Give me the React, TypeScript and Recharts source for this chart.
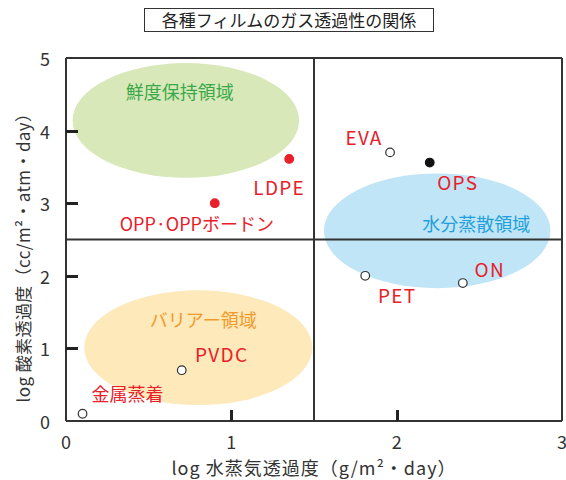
import React from 'react';
import { ScatterChart, Scatter, XAxis, YAxis, ReferenceArea, ReferenceLine } from 'recharts';

const FONT = '"Noto Sans CJK JP", "Noto Sans", sans-serif';
const INK = '#333333';
const RED = '#e8202a';

const xTicks = [0, 1, 2, 3];
const yTicks = [0, 1, 2, 3, 4, 5];

// open circles: film, log water vapour, log oxygen
const openFilms = ['金属蒸着', 'PVDC', 'EVA', 'PET', 'ON'];
const openVapour = [0.1, 0.7, 1.96, 1.81, 2.4];
const openOxygen = [0.1, 0.7, 3.7, 2.0, 1.9];

// red dots
const redFilms = ['LDPE', 'OPP·OPPボードン'];
const redVapour = [1.35, 0.9];
const redOxygen = [3.61, 3.0];

// black dot
const blackFilms = ['OPS'];
const blackVapour = [2.2];
const blackOxygen = [3.56];

// shaded regions (bounding boxes in data units)
const regionNames = ['鮮度保持領域', '水分蒸散領域', 'バリアー領域'];
const regionX1 = [0.04, 1.56, 0.11];
const regionX2 = [1.41, 2.93, 1.49];
const regionY1 = [3.35, 1.83, 0.22];
const regionY2 = [4.93, 3.41, 1.8];

const dividerX = 1.5;
const dividerY = 2.5;

// styling: label offsets in px from the point
const labelOffset: Record<string, [number, number]> = {
  '金属蒸着': [45, -21],
  PVDC: [40, -17],
  EVA: [-26, -16],
  PET: [32, 19],
  ON: [27, -15],
  LDPE: [-10, 28],
  'OPP·OPPボードン': [-18, 20],
  OPS: [28, 19],
};
const regionFill = ['#d9e8b9', '#bfe5f6', '#fde9ba'];
const regionText = ['#3aa84a', '#1f9fdb', '#f19a2c'];
const regionLabelOffset: [number, number][] = [[-6, -29], [39, -8], [5, -29]];

const toPoints = (names: string[], xs: number[], ys: number[]) =>
  names.map((name, i) => ({ name, x: xs[i], y: ys[i] }));

const openData = toPoints(openFilms, openVapour, openOxygen);
const redData = toPoints(redFilms, redVapour, redOxygen);
const blackData = toPoints(blackFilms, blackVapour, blackOxygen);

// inward tick marks, placed through the scatter scales
const yTickMarks = yTicks.slice(1, -1).map((v) => ({ x: xTicks[0], y: v }));
const xTickMarks = xTicks.slice(1, -1).map((v) => ({ x: v, y: yTicks[0] }));

const isLatin = (s: string) => /^[A-Z]+$/.test(s);

const makeDot = (fill: string, stroke: string) => (props: any) => {
  const { cx, cy, payload } = props;
  const [dx, dy] = labelOffset[payload.name] || [0, 0];
  const latin = isLatin(payload.name);
  return (
    <g>
      <circle cx={cx} cy={cy} r={4.3} fill={fill} stroke={stroke} strokeWidth={1.2} />
      <text
        x={cx + dx}
        y={cy + dy}
        textAnchor="middle"
        dominantBaseline="central"
        fill={RED}
        fontSize={latin ? 19 : 18}
        letterSpacing={latin ? 1.3 : 0}
        fontFamily={FONT}
      >
        {payload.name}
      </text>
    </g>
  );
};

// tick marks as filled rects (stroked lines did not show here)
const yTickShape = (props: any) => (
  <rect x={Math.round(props.cx)} y={Math.round(props.cy) - 1} width={12} height={3} fill="#222222" />
);
const xTickShape = (props: any) => (
  <rect x={Math.round(props.cx) - 1} y={Math.round(props.cy) - 11} width={3} height={11} fill="#222222" />
);

const makeEllipse = (i: number) => (props: any) => {
  const { x, y, width, height } = props;
  const cx = x + width / 2;
  const cy = y + height / 2;
  return (
    <g>
      <ellipse cx={cx} cy={cy} rx={Math.abs(width) / 2} ry={Math.abs(height) / 2} fill={regionFill[i]} />
      <text
        x={cx + regionLabelOffset[i][0]}
        y={cy + regionLabelOffset[i][1]}
        textAnchor="middle"
        dominantBaseline="central"
        fill={regionText[i]}
        fontSize={18}
        fontFamily={FONT}
      >
        {regionNames[i]}
      </text>
    </g>
  );
};

const XTick = (props: any) => {
  const { x, y, payload } = props;
  return (
    <text x={x} y={y + 20} textAnchor="middle" dominantBaseline="central" fill={INK} fontSize={18} fontFamily={FONT}>
      {payload.value}
    </text>
  );
};

const YTick = (props: any) => {
  const { x, y, payload } = props;
  return (
    <text x={x - 21} y={y} textAnchor="middle" dominantBaseline="central" fill={INK} fontSize={18} fontFamily={FONT}>
      {payload.value}
    </text>
  );
};

const XTitle = (props: any) => {
  const vb = props.viewBox;
  return (
    <text
      x={vb.x + vb.width / 2}
      y={vb.y + 46}
      textAnchor="middle"
      dominantBaseline="central"
      fill={INK}
      fontSize={18}
      letterSpacing={1}
      fontFamily={FONT}
    >
      log 水蒸気透過度（g/m²・day）
    </text>
  );
};

const YTitle = (props: any) => {
  const vb = props.viewBox;
  const cx = vb.x + 22;
  const cy = vb.y + vb.height / 2 + 14;
  return (
    <text
      x={cx}
      y={cy}
      transform={`rotate(-90, ${cx}, ${cy})`}
      textAnchor="middle"
      dominantBaseline="central"
      fill={INK}
      fontSize={17}
      letterSpacing={0.4}
      fontFamily={FONT}
    >
      log 酸素透過度（cc/m²・atm・day）
    </text>
  );
};

export default function App() {
  return (
    <div style={{ position: 'absolute', left: 0, top: 0, width: 566, height: 480, background: '#fff' }}>
      <div
        style={{
          position: 'absolute',
          left: 144,
          top: 8,
          width: 290,
          height: 24,
          boxSizing: 'border-box',
          border: `1.5px solid ${INK}`,
          fontFamily: FONT,
          fontSize: 17,
          lineHeight: '21px',
          textAlign: 'center',
          color: '#222',
        }}
      >
        各種フィルムのガス透過性の関係
      </div>
      <ScatterChart width={566} height={480} margin={{ top: 58, right: 4, bottom: 0, left: 0 }}>
        <XAxis
          type="number"
          dataKey="x"
          domain={[0, 3]}
          ticks={xTicks}
          height={59}
          tickSize={0}
          tickMargin={0}
          tickLine={false}
          axisLine={{ stroke: INK, strokeWidth: 2 }}
          tick={<XTick />}
          label={XTitle}
        />
        <YAxis
          type="number"
          dataKey="y"
          domain={[0, 5]}
          ticks={yTicks}
          width={66}
          tickSize={0}
          tickMargin={0}
          tickLine={false}
          axisLine={{ stroke: INK, strokeWidth: 2 }}
          tick={<YTick />}
          label={YTitle}
        />
        {regionNames.map((name, i) => (
          <ReferenceArea
            key={name}
            x1={regionX1[i]}
            x2={regionX2[i]}
            y1={regionY1[i]}
            y2={regionY2[i]}
            shape={makeEllipse(i)}
          />
        ))}
        <ReferenceLine x={dividerX} stroke={INK} strokeWidth={2} />
        <ReferenceLine y={dividerY} stroke={INK} strokeWidth={2} />
        <ReferenceLine x={xTicks[xTicks.length - 1]} stroke={INK} strokeWidth={2} />
        <ReferenceLine y={yTicks[yTicks.length - 1]} stroke={INK} strokeWidth={2} />
        <Scatter data={yTickMarks} shape={yTickShape} isAnimationActive={false} />
        <Scatter data={xTickMarks} shape={xTickShape} isAnimationActive={false} />
        <Scatter data={openData} shape={makeDot('#ffffff', INK)} isAnimationActive={false} />
        <Scatter data={redData} shape={makeDot(RED, RED)} isAnimationActive={false} />
        <Scatter data={blackData} shape={makeDot('#111111', '#111111')} isAnimationActive={false} />
      </ScatterChart>
    </div>
  );
}
